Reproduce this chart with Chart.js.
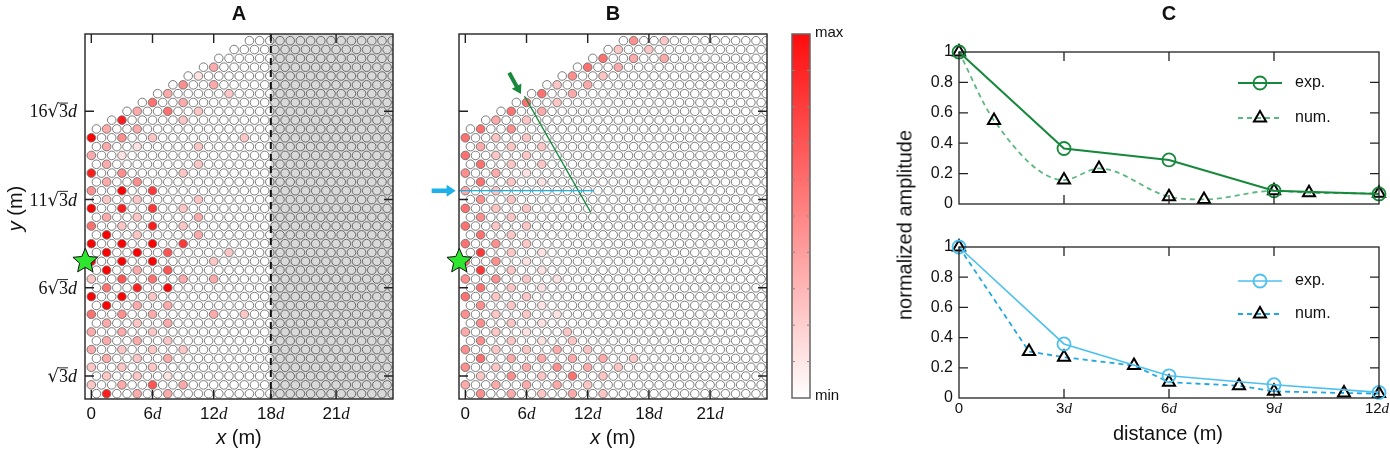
<!DOCTYPE html>
<html>
<head>
<meta charset="utf-8">
<title>Lattice amplitude</title>
<script src="https://cdn.jsdelivr.net/npm/chart.js@4.4.1/dist/chart.umd.min.js"></script>
<style>
  body { margin: 0; background: #fff; }
  #wrap { position: relative; width: 1390px; height: 453px; overflow: hidden; }
  canvas { position: absolute; top: 0; }
  #ampTitle { position: absolute; left: 905px; top: 225px; transform: translate(-50%, -50%) rotate(-90deg);
              font: 20px "Liberation Sans", Arial, sans-serif; white-space: nowrap; color: #111; }
</style>
</head>
<body>
<div id="wrap">
  <canvas id="panelA" width="430" height="453" style="left:0"></canvas>
  <canvas id="panelB" width="350" height="453" style="left:430px"></canvas>
  <canvas id="colorBar" width="90" height="453" style="left:780px"></canvas>
  <canvas id="panelC1" width="510" height="226" style="left:880px"></canvas>
  <canvas id="panelC2" width="510" height="227" style="left:880px;top:226px"></canvas>
  <div id="ampTitle">normalized amplitude</div>
</div>
<script>
// ---------- data: lattice panels (units of d) ----------
const ROW_H = Math.sqrt(3) / 2;   // row j sits at y = j * ROW_H

// first column of each row (rows 30+ are cut by the slanted edge)
const rowStart = [0.5, 0, 0.5, 0, 0.5, 0, 0.5, 0, 0.5, 0,
                  0.5, 0, 0.5, 0, 0.5, 0, 0.5, 0, 0.5, 0,
                  0.5, 0, 0.5, 0, 0.5, 0, 0.5, 0, 0.5, 0,
                  0.5, 2, 3.5, 5, 6.5, 8, 9.5, 11, 12.5, 14, 15.5];

// [column x, level 0..9] per row
const heatA = [
  [[1.5, 8], [4.5, 3], [7.5, 3]],
  [[0, 2], [3, 3], [6, 6], [9, 3]],
  [[1.5, 2], [4.5, 2], [7.5, 1]],
  [[0, 2], [3, 2], [6, 2]],
  [[1.5, 3], [4.5, 2], [7.5, 3]],
  [[0, 3], [3, 2], [6, 2], [9, 2]],
  [[1.5, 3], [4.5, 3], [7.5, 2]],
  [[0, 3], [3, 3], [6, 2]],
  [[1.5, 3], [4.5, 2], [7.5, 3]],
  [[0, 5], [3, 4], [6, 3], [12, 3], [15, 2]],
  [[1.5, 9], [4.5, 3], [7.5, 3]],
  [[0, 9], [3, 9], [6, 2]],
  [[1.5, 5], [4.5, 8], [7.5, 9]],
  [[0, 2], [3, 6], [6, 5], [9, 3], [12, 3]],
  [[1.5, 9], [4.5, 3], [7.5, 6]],
  [[0, 9], [3, 9], [6, 9], [12, 2]],
  [[1.5, 9], [4.5, 9], [7.5, 6], [13.5, 2]],
  [[0, 9], [3, 9], [6, 9], [9, 7]],
  [[1.5, 9], [4.5, 2], [10.5, 3]],
  [[0, 5], [3, 2], [6, 8], [9, 2]],
  [[1.5, 3], [4.5, 2], [10.5, 3]],
  [[0, 9], [3, 8], [6, 7], [9, 2]],
  [[1.5, 2], [4.5, 2], [10.5, 2]],
  [[0, 4], [3, 9], [6, 7]],
  [[1.5, 3], [4.5, 4]],
  [[0, 8], [3, 4], [9, 2]],
  [[1.5, 3], [10.5, 2]],
  [[0, 3], [3, 1]],
  [[1.5, 3], [4.5, 1], [10.5, 2]],
  [[0, 9], [3, 4], [6, 2], [15, 2]],
  [[1.5, 3], [4.5, 3]],
  [[3, 8], [9, 2]],
  [[4.5, 3], [7.5, 5], [10.5, 2]],
  [[6, 5], [9, 3]],
  [[7.5, 3], [13.5, 2]],
  [[9, 4], [12, 3]],
  [[10.5, 1]],
  [[12, 3]],
  [], [], []
];

const heatB = [
  [[1.5, 4], [4.5, 3], [7.5, 2], [10.5, 3], [13.5, 2]],
  [[0, 3], [3, 3], [6, 3], [9, 3], [12, 2]],
  [[1.5, 2], [4.5, 4], [7.5, 2], [10.5, 5], [13.5, 2]],
  [[0, 4], [3, 2], [6, 3], [9, 4], [12, 3], [15, 2]],
  [[1.5, 5], [4.5, 3], [7.5, 3], [10.5, 3], [13.5, 3], [16.5, 2]],
  [[0, 4], [3, 2], [6, 2], [9, 3], [12, 2]],
  [[1.5, 4], [4.5, 2], [7.5, 1], [10.5, 2]],
  [[0, 3], [3, 2], [6, 1], [10, 2]],
  [[1.5, 4], [4.5, 2], [7.5, 1]],
  [[0, 4], [3, 2], [6, 2], [9, 1]],
  [[1.5, 4], [4.5, 2], [7.5, 1]],
  [[0, 5], [3, 2], [6, 2]],
  [[1.5, 5], [4.5, 2], [7.5, 1]],
  [[0, 4], [3, 4], [6, 2], [9, 1]],
  [[1.5, 7], [4.5, 2], [7.5, 1]],
  [[0, 5], [3, 4], [6, 1]],
  [[1.5, 7], [4.5, 2], [7.5, 1]],
  [[0, 5], [3, 4], [6, 2]],
  [[1.5, 5], [4.5, 2]],
  [[0, 5], [3, 2], [6, 2]],
  [[1.5, 4], [4.5, 2]],
  [[0, 5], [3, 2], [6, 2]],
  [[1.5, 4], [4.5, 2]],
  [[0, 3], [3, 2]],
  [[1.5, 5], [4.5, 2], [7.5, 1]],
  [[0, 4], [3, 3], [6, 1]],
  [[1.5, 5], [4.5, 2], [7.5, 2]],
  [[0, 5], [3, 2], [6, 2]],
  [[1.5, 3], [4.5, 2], [7.5, 2]],
  [[0, 5], [3, 2], [6, 2]],
  [[1.5, 5], [4.5, 4]],
  [[3, 3], [6, 2]],
  [[4.5, 5], [7.5, 3]],
  [[6, 5], [9, 2]],
  [[7.5, 5], [10.5, 3]],
  [[9, 2], [12, 3]],
  [[10.5, 4], [13.5, 2]],
  [[12, 5], [15, 3]],
  [[13.5, 5], [16.5, 3], [19.5, 3]],
  [[15, 2], [18, 2]],
  [[16.5, 4], [19.5, 2]]
];

const xTicksA = [0, 6, 12, 17.6, 24];
const xTicksB = [0, 6, 12, 18, 24];
const xTickLabels = ['0', '6d', '12d', '18d', '21d'];
const yTickK = [1, 6, 11, 16];
const yTickLabels = ['√3d', '6√3d', '11√3d', '16√3d'];
const grayFromA = 17.6;
const source = { x: -0.59, y: 12.99 };
const blueCut = [{ x: -0.62, y: 19.92 }, { x: 12.6, y: 19.92 }];
const greenCut = [{ x: 5.8, y: 29.2 }, { x: 12.3, y: 17.8 }];
const blueArrow = [{ x: -3.3, y: 19.92 }, { x: -0.95, y: 19.92 }];
const greenArrow = [{ x: 4.3, y: 31.5 }, { x: 5.45, y: 29.4 }];

// colour bar
const cbarRange = [0, 1];
const cbarTicks = [0.1, 0.2, 0.3, 0.4, 0.5, 0.6, 0.7, 0.8, 0.9];

// ---------- data: panel C ----------
const expDist = [0, 3, 6, 9, 12];
const expTop = [1.0, 0.365, 0.29, 0.087, 0.066];
const numDistTop = [0, 1, 3, 4, 6, 7, 9, 10, 12];
const numTop = [1.0, 0.55, 0.158, 0.234, 0.048, 0.03, 0.087, 0.074, 0.07];
const expBot = [1.0, 0.358, 0.147, 0.088, 0.037];
const numDistBot = [0, 2, 3, 5, 6, 8, 9, 11, 12];
const numBot = [1.0, 0.308, 0.27, 0.215, 0.105, 0.081, 0.044, 0.033, 0.029];
const ampTicks = [0, 0.2, 0.4, 0.6, 0.8, 1];
const ampTickLabels = ['0', '0.2', '0.4', '0.6', '0.8', '1'];
const distTicks = [0, 3, 6, 9, 12];
const distTickLabels = ['0', '3d', '6d', '9d', '12d'];

const GREEN = '#16883b', GREEN_L = '#5db880', BLUE = '#4cc0ef', BLUE_D = '#22a8e0';
const SANS = '"Liberation Sans", Arial, sans-serif';
const SERIF = '"Liberation Serif", "Times New Roman", serif';

// ---------- helpers ----------
function heatColor(level) {
  const g = Math.round(255 * (1 - level / 9));
  return `rgb(255,${g},${g})`;
}

function lattice(heat) {
  const pts = [], fills = [];
  rowStart.forEach((x0, j) => {
    const lv = new Map(heat[j]);
    for (let v = x0; v <= 30; v += 1) {
      pts.push({ x: v, y: j * ROW_H });
      fills.push(heatColor(lv.get(v) || 0));
    }
  });
  return { pts, fills };
}

const zip = (xs, ys) => xs.map((x, i) => ({ x, y: ys[i] }));

// label with upright digits, italic d and a radical with overline
function drawTex(ctx, s, x, y, align, upFam, size) {
  const parts = [];
  for (let i = 0; i < s.length; i++) {
    const ch = s[i];
    if (ch === 'd') parts.push({ t: 'd', f: `italic ${size}px ${SERIF}` });
    else if (ch === '√') {
      parts.push({ t: '√', f: `${size}px "DejaVu Serif"` });
      parts.push({ t: s[++i], f: `${size}px ${SERIF}`, over: true });
    } else parts.push({ t: ch, f: `${size}px ${upFam}` });
  }
  let w = 0;
  parts.forEach(p => { ctx.font = p.f; p.w = ctx.measureText(p.t).width; w += p.w; });
  let cx = align === 'right' ? x - w : align === 'center' ? x - w / 2 : x;
  ctx.textAlign = 'left';
  ctx.textBaseline = 'alphabetic';
  parts.forEach(p => {
    ctx.font = p.f;
    ctx.fillText(p.t, cx, y);
    if (p.over) {
      ctx.lineWidth = 0.9;
      ctx.beginPath();
      ctx.moveTo(cx - 0.5, y - size * 0.79);
      ctx.lineTo(cx + p.w, y - size * 0.79);
      ctx.stroke();
    }
    cx += p.w;
  });
}

// "x (m)" style title: italic variable + upright unit
function drawAxisTitle(ctx, v, rest, x, y, size) {
  ctx.font = `italic ${size}px ${SANS}`;
  const w1 = ctx.measureText(v).width;
  ctx.font = `${size}px ${SANS}`;
  const w2 = ctx.measureText(rest).width;
  let cx = x - (w1 + w2) / 2;
  ctx.textAlign = 'left';
  ctx.textBaseline = 'alphabetic';
  ctx.font = `italic ${size}px ${SANS}`;
  ctx.fillText(v, cx, y);
  ctx.font = `${size}px ${SANS}`;
  ctx.fillText(rest, cx + w1, y);
}

function drawStar(ctx, cx, cy, R, r) {
  ctx.beginPath();
  for (let i = 0; i < 10; i++) {
    const a = -Math.PI / 2 + i * Math.PI / 5;
    const rr = i % 2 ? r : R;
    ctx.lineTo(cx + rr * Math.cos(a), cy + rr * Math.sin(a));
  }
  ctx.closePath();
  ctx.fillStyle = '#2fe62f';
  ctx.fill();
  ctx.lineWidth = 1;
  ctx.strokeStyle = '#111';
  ctx.stroke();
}

function drawArrow(ctx, x1, y1, x2, y2, shaft, headL, headW, color) {
  const dx = x2 - x1, dy = y2 - y1, L = Math.hypot(dx, dy);
  const ux = dx / L, uy = dy / L, nx = -uy, ny = ux;
  const bx = x2 - ux * headL, by = y2 - uy * headL;
  ctx.beginPath();
  ctx.moveTo(x1 + nx * shaft / 2, y1 + ny * shaft / 2);
  ctx.lineTo(bx + nx * shaft / 2, by + ny * shaft / 2);
  ctx.lineTo(bx + nx * headW / 2, by + ny * headW / 2);
  ctx.lineTo(x2, y2);
  ctx.lineTo(bx - nx * headW / 2, by - ny * headW / 2);
  ctx.lineTo(bx - nx * shaft / 2, by - ny * shaft / 2);
  ctx.lineTo(x1 - nx * shaft / 2, y1 - ny * shaft / 2);
  ctx.closePath();
  ctx.fillStyle = color;
  ctx.fill();
}

// frame, inward ticks, labels, star, arrows for the lattice panels
function latticeDeco(spec) {
  return {
    id: 'deco' + spec.name,
    afterDatasetsDraw(chart) {
      if (spec.grayFrom == null) return;
      const { ctx, chartArea: a, scales: { x } } = chart;
      const gx = x.getPixelForValue(spec.grayFrom);
      ctx.save();
      ctx.fillStyle = 'rgba(0,0,0,0.15)';
      ctx.fillRect(gx, a.top, a.right - gx, a.bottom - a.top);
      ctx.setLineDash([7, 5]);
      ctx.lineWidth = 2;
      ctx.strokeStyle = '#111';
      ctx.beginPath();
      ctx.moveTo(gx, a.top);
      ctx.lineTo(gx, a.bottom);
      ctx.stroke();
      ctx.restore();
    },
    afterDraw(chart) {
      const { ctx, chartArea: a, scales: { x, y } } = chart;
      ctx.save();
      ctx.strokeStyle = '#222';
      ctx.lineWidth = 1.4;
      ctx.strokeRect(a.left, a.top, a.right - a.left, a.bottom - a.top);
      const T = 9;
      ctx.beginPath();
      spec.xTicks.forEach(t => {
        const px = x.getPixelForValue(t);
        ctx.moveTo(px, a.bottom); ctx.lineTo(px, a.bottom - T);
        ctx.moveTo(px, a.top); ctx.lineTo(px, a.top + T);
      });
      yTickK.forEach(k => {
        const py = y.getPixelForValue(k * Math.sqrt(3));
        ctx.moveTo(a.left, py); ctx.lineTo(a.left + T, py);
        ctx.moveTo(a.right, py); ctx.lineTo(a.right - T, py);
      });
      ctx.stroke();

      ctx.fillStyle = '#111';
      ctx.strokeStyle = '#111';
      spec.xTicks.forEach((t, i) => {
        drawTex(ctx, xTickLabels[i], x.getPixelForValue(t), a.bottom + 20, 'center', SANS, 17);
      });
      if (spec.yLabels) {
        yTickK.forEach((k, i) => {
          drawTex(ctx, yTickLabels[i], a.left - 8, y.getPixelForValue(k * Math.sqrt(3)) + 6, 'right', SERIF, 18);
        });
        ctx.save();
        ctx.translate(15, (a.top + a.bottom) / 2 - 8);
        ctx.rotate(-Math.PI / 2);
        drawAxisTitle(ctx, 'y', ' (m)', 0, 7, 20);
        ctx.restore();
      }
      const mid = (a.left + a.right) / 2;
      drawAxisTitle(ctx, 'x', ' (m)', mid, a.bottom + 45, 20);
      ctx.font = `bold 20px ${SANS}`;
      ctx.textAlign = 'center';
      ctx.fillText(spec.name, mid, 20);

      if (spec.arrows) {
        spec.arrows.forEach(ar => {
          drawArrow(ctx, x.getPixelForValue(ar.p[0].x), y.getPixelForValue(ar.p[0].y),
                    x.getPixelForValue(ar.p[1].x), y.getPixelForValue(ar.p[1].y),
                    ar.shaft, ar.headL, ar.headW, ar.color);
        });
      }
      drawStar(ctx, x.getPixelForValue(source.x), y.getPixelForValue(source.y), 13, 6);
      ctx.restore();
    }
  };
}

function latticeOptions(pad) {
  return {
    responsive: false,
    animation: false,
    events: [],
    devicePixelRatio: 1,
    layout: { padding: pad },
    plugins: { legend: { display: false }, tooltip: { enabled: false } },
    scales: {
      x: { type: 'linear', display: false, min: -0.62, max: 29.58 },
      y: { type: 'linear', display: false, min: -0.52, max: 35.3 }
    }
  };
}

function latticeSet(lat) {
  return {
    data: lat.pts,
    pointBackgroundColor: lat.fills,
    pointBorderColor: '#747474',
    pointBorderWidth: 0.95,
    pointRadius: 4.3,
    clip: 0,
    order: 1
  };
}

// ---------- panel A ----------
const latA = lattice(heatA);
new Chart(document.getElementById('panelA'), {
  type: 'scatter',
  data: { datasets: [latticeSet(latA)] },
  options: latticeOptions({ left: 85, right: 37, top: 34, bottom: 54 }),
  plugins: [latticeDeco({ name: 'A', xTicks: xTicksA, yLabels: true, grayFrom: grayFromA })]
});

// ---------- panel B ----------
const latB = lattice(heatB);
new Chart(document.getElementById('panelB'), {
  type: 'scatter',
  data: {
    datasets: [
      latticeSet(latB),
      { data: blueCut, showLine: true, borderColor: '#1db1ec', borderWidth: 1.3, pointRadius: 0, clip: 0, order: 0 },
      { data: greenCut, showLine: true, borderColor: '#18893d', borderWidth: 1.3, pointRadius: 0, clip: 0, order: 0 }
    ]
  },
  options: latticeOptions({ left: 29, right: 13, top: 34, bottom: 54 }),
  plugins: [latticeDeco({
    name: 'B', xTicks: xTicksB, yLabels: false,
    arrows: [
      { p: blueArrow, shaft: 4.5, headL: 9, headW: 12, color: '#1db1ec' },
      { p: greenArrow, shaft: 4, headL: 9, headW: 11, color: '#18893d' }
    ]
  })]
});

// ---------- colour bar ----------
new Chart(document.getElementById('colorBar'), {
  type: 'bar',
  data: {
    labels: [''],
    datasets: [{
      data: [cbarRange],
      barPercentage: 1,
      categoryPercentage: 1,
      borderWidth: 0,
      backgroundColor: c => {
        const area = c.chart.chartArea;
        if (!area) return '#fff';
        const g = c.chart.ctx.createLinearGradient(0, area.bottom, 0, area.top);
        g.addColorStop(0, '#ffffff');
        g.addColorStop(1, '#ff0c0c');
        return g;
      }
    }]
  },
  options: {
    responsive: false, animation: false, events: [], devicePixelRatio: 1,
    layout: { padding: { left: 12, right: 60, top: 34, bottom: 55 } },
    plugins: { legend: { display: false }, tooltip: { enabled: false } },
    scales: { x: { display: false }, y: { display: false, min: 0, max: 1 } }
  },
  plugins: [{
    id: 'cbarDeco',
    afterDraw(chart) {
      const { ctx, chartArea: a, scales: { y } } = chart;
      ctx.save();
      ctx.strokeStyle = '#666';
      ctx.lineWidth = 1.5;
      ctx.strokeRect(a.left, a.top, a.right - a.left, a.bottom - a.top);
      ctx.lineWidth = 1;
      ctx.strokeStyle = '#888';
      ctx.beginPath();
      cbarTicks.forEach(t => {
        const py = y.getPixelForValue(t);
        ctx.moveTo(a.left, py); ctx.lineTo(a.left + 3, py);
        ctx.moveTo(a.right, py); ctx.lineTo(a.right - 3, py);
      });
      ctx.stroke();
      ctx.fillStyle = '#111';
      ctx.font = `15px ${SANS}`;
      ctx.textAlign = 'left';
      ctx.textBaseline = 'middle';
      ctx.fillText('max', a.right + 5, y.getPixelForValue(1) - 1);
      ctx.fillText('min', a.right + 5, y.getPixelForValue(0) - 2);
      ctx.restore();
    }
  }]
});

// ---------- panel C ----------
function ampDeco(spec) {
  return {
    id: 'ampDeco' + spec.id,
    afterDraw(chart) {
      const { ctx, chartArea: a, scales: { x, y } } = chart;
      ctx.save();
      ctx.strokeStyle = '#222';
      ctx.lineWidth = 1.3;
      ctx.strokeRect(a.left, a.top, a.right - a.left, a.bottom - a.top);
      const T = 9;
      ctx.beginPath();
      distTicks.slice(1, -1).forEach(t => {
        const px = x.getPixelForValue(t);
        ctx.moveTo(px, a.bottom); ctx.lineTo(px, a.bottom - T);
        ctx.moveTo(px, a.top); ctx.lineTo(px, a.top + T);
      });
      ampTicks.slice(1, -1).forEach(t => {
        const py = y.getPixelForValue(t);
        ctx.moveTo(a.left, py); ctx.lineTo(a.left + T, py);
        ctx.moveTo(a.right, py); ctx.lineTo(a.right - T, py);
      });
      ctx.stroke();

      ctx.fillStyle = '#111';
      ctx.strokeStyle = '#111';
      ctx.font = `16px ${SANS}`;
      ctx.textAlign = 'right';
      ctx.textBaseline = 'middle';
      ampTicks.forEach((t, i) => ctx.fillText(ampTickLabels[i], a.left - 6, y.getPixelForValue(t)));

      if (spec.xLabels) {
        distTicks.forEach((t, i) => {
          const px = Math.min(x.getPixelForValue(t), chart.width - 13);
          drawTex(ctx, distTickLabels[i], px, a.bottom + 15, 'center', SANS, 15);
        });
        ctx.font = `20px ${SANS}`;
        ctx.textAlign = 'center';
        ctx.textBaseline = 'alphabetic';
        ctx.fillText('distance (m)', (a.left + a.right) / 2 - 1, a.bottom + 42);
      }
      if (spec.title) {
        ctx.font = `bold 20px ${SANS}`;
        ctx.textAlign = 'center';
        ctx.textBaseline = 'alphabetic';
        ctx.fillText(spec.title, (a.left + a.right) / 2, 20);
      }
      // legend: line sample with marker, then label
      chart.data.datasets.forEach((ds, i) => {
        const yc = a.top + spec.legendTop + i * spec.legendGap;
        const x0 = a.right - 141;
        ctx.save();
        ctx.strokeStyle = ds.borderColor;
        ctx.lineWidth = ds.borderWidth;
        ctx.setLineDash(ds.borderDash || []);
        ctx.beginPath();
        ctx.moveTo(x0, yc); ctx.lineTo(x0 + 44, yc);
        ctx.stroke();
        ctx.setLineDash([]);
        ctx.strokeStyle = ds.pointBorderColor;
        ctx.lineWidth = ds.pointBorderWidth;
        ctx.fillStyle = 'rgba(0,0,0,0)';
        Chart.helpers.drawPoint(ctx, { pointStyle: ds.pointStyle, radius: ds.pointRadius, borderWidth: ds.pointBorderWidth, rotation: 0 }, x0 + 22, yc);
        ctx.fillStyle = '#111';
        ctx.font = `16px ${SANS}`;
        ctx.textAlign = 'left';
        ctx.textBaseline = 'middle';
        ctx.fillText(ds.label, x0 + 57, yc);
        ctx.restore();
      });
      ctx.restore();
    }
  };
}

function ampChart(id, pad, expVals, numX, numY, col, curved, spec) {
  return new Chart(document.getElementById(id), {
    type: 'line',
    data: {
      datasets: [
        {
          label: 'exp.', data: zip(expDist, expVals),
          borderColor: col.exp, borderWidth: col.expW,
          pointStyle: 'circle', pointRadius: 6.5, pointBorderColor: col.exp, pointBorderWidth: 1.8,
          pointBackgroundColor: 'rgba(0,0,0,0)', clip: false
        },
        {
          label: 'num.', data: zip(numX, numY),
          borderColor: col.num, borderWidth: 1.8, borderDash: [5, 4],
          pointStyle: 'triangle', pointRadius: 7, pointBorderColor: '#000', pointBorderWidth: 2,
          pointBackgroundColor: 'rgba(0,0,0,0)',
          cubicInterpolationMode: curved ? 'monotone' : 'default', clip: false
        }
      ]
    },
    options: {
      responsive: false, animation: false, events: [], devicePixelRatio: 1,
      layout: { padding: pad },
      plugins: { legend: { display: false }, tooltip: { enabled: false } },
      scales: {
        x: { type: 'linear', display: false, min: 0, max: 12 },
        y: { type: 'linear', display: false, min: 0, max: 1 }
      }
    },
    plugins: [ampDeco(spec)]
  });
}

ampChart('panelC1', { left: 79, right: 11, top: 52, bottom: 22 }, expTop, numDistTop, numTop,
  { exp: GREEN, expW: 2, num: GREEN_L }, true,
  { id: 'top', title: 'C', xLabels: false, legendTop: 31, legendGap: 35 });

ampChart('panelC2', { left: 79, right: 11, top: 21, bottom: 55 }, expBot, numDistBot, numBot,
  { exp: BLUE, expW: 1.6, num: BLUE_D }, false,
  { id: 'bot', title: null, xLabels: true, legendTop: 34, legendGap: 33 });
</script>
</body>
</html>
